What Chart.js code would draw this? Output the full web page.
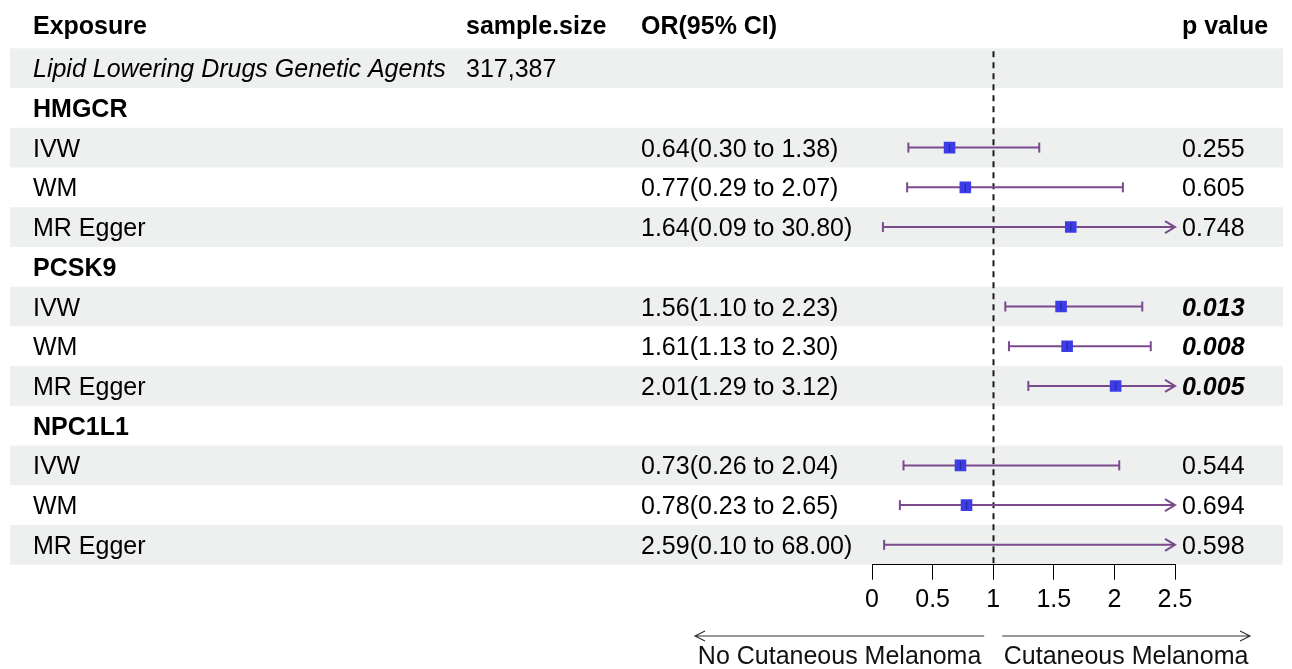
<!DOCTYPE html>
<html>
<head>
<meta charset="utf-8">
<script src="https://cdn.jsdelivr.net/npm/chart.js@4/dist/chart.umd.min.js"></script>
<style>
  html, body { margin: 0; padding: 0; background: #ffffff; }
  #wrap { width: 1292px; height: 669px; }
</style>
</head>
<body>
<div id="wrap"><canvas id="c" width="1292" height="669"></canvas></div>
<script>
// ---------------- DATA ----------------
const exposures = ["Lipid Lowering Drugs Genetic Agents", "HMGCR", "IVW", "WM", "MR Egger",
                   "PCSK9", "IVW", "WM", "MR Egger", "NPC1L1", "IVW", "WM", "MR Egger"];
const exposureStyles = ["italic", "bold", "normal", "normal", "normal",
                        "bold", "normal", "normal", "normal", "bold", "normal", "normal", "normal"];
const sampleSizes = ["317,387", "", "", "", "", "", "", "", "", "", "", "", ""];
const orLabels = ["", "", "0.64(0.30 to 1.38)", "0.77(0.29 to 2.07)", "1.64(0.09 to 30.80)",
                  "", "1.56(1.10 to 2.23)", "1.61(1.13 to 2.30)", "2.01(1.29 to 3.12)",
                  "", "0.73(0.26 to 2.04)", "0.78(0.23 to 2.65)", "2.59(0.10 to 68.00)"];
const orValues = [null, null, 0.64, 0.77, 1.64, null, 1.56, 1.61, 2.01, null, 0.73, 0.78, 2.59];
const ciLower  = [null, null, 0.30, 0.29, 0.09, null, 1.10, 1.13, 1.29, null, 0.26, 0.23, 0.10];
const ciUpper  = [null, null, 1.38, 2.07, 30.80, null, 2.23, 2.30, 3.12, null, 2.04, 2.65, 68.00];
const pValues  = ["", "", "0.255", "0.605", "0.748", "", "0.013", "0.008", "0.005", "", "0.544", "0.694", "0.598"];
const pBold    = [false, false, false, false, false, false, true, true, true, false, false, false, false];
const headers  = ["Exposure", "sample.size", "OR(95% CI)", "p value"];
const xTicks   = [0, 0.5, 1, 1.5, 2, 2.5];
const refValue = 1;
const leftLabel = "No Cutaneous Melanoma";
const rightLabel = "Cutaneous Melanoma";

// ---------------- STYLE ----------------
const FONT = '"Liberation Sans", Arial, Helvetica, sans-serif';
const FS = 25;
const COLX = [33, 466, 641, 1182];
const BAND = '#eef0ef';
const CI_COLOR = '#7b4a8d';
const PT_COLOR = '#3d3de8';

const pts = [];
orValues.forEach((v, i) => { if (v !== null) pts.push({ x: v, y: i }); });

const forestPlugin = {
  id: 'forest',
  beforeDraw(chart) {
    const ctx = chart.ctx, y = chart.scales.y;
    ctx.save();
    ctx.fillStyle = '#ffffff';
    ctx.fillRect(0, 0, chart.width, chart.height);
    ctx.fillStyle = BAND;
    for (let i = 0; i < exposures.length; i += 2) {
      const t = y.getPixelForValue(i - 0.5), b = y.getPixelForValue(i + 0.5);
      ctx.fillRect(10, t, 1273, b - t);
    }
    // texts
    ctx.fillStyle = '#000000';
    ctx.textBaseline = 'alphabetic';
    ctx.textAlign = 'left';
    const hy = 25 + 9;
    ctx.font = `bold ${FS}px ${FONT}`;
    headers.forEach((h, k) => ctx.fillText(h, COLX[k], hy));
    exposures.forEach((t, i) => {
      const cy = y.getPixelForValue(i) + 9;
      const st = exposureStyles[i];
      ctx.font = (st === 'bold' ? 'bold ' : st === 'italic' ? 'italic ' : '') + `${FS}px ${FONT}`;
      ctx.fillText(t, COLX[0], cy);
      ctx.font = `${FS}px ${FONT}`;
      if (sampleSizes[i]) ctx.fillText(sampleSizes[i], COLX[1], cy);
      if (orLabels[i]) ctx.fillText(orLabels[i], COLX[2], cy);
      if (pValues[i]) {
        ctx.font = (pBold[i] ? 'italic bold ' : '') + `${FS}px ${FONT}`;
        ctx.fillText(pValues[i], COLX[3], cy);
      }
    });
    ctx.restore();
  },
  beforeDatasetsDraw(chart) {
    const ctx = chart.ctx, x = chart.scales.x, y = chart.scales.y, area = chart.chartArea;
    ctx.save();
    // reference dashed line
    const rx = Math.round(x.getPixelForValue(refValue)) + 0.5;
    ctx.strokeStyle = '#1a1a1a';
    ctx.lineWidth = 2;
    ctx.setLineDash([6, 5]);
    ctx.beginPath();
    ctx.moveTo(rx, area.top + 3);
    ctx.lineTo(rx, area.bottom);
    ctx.stroke();
    ctx.setLineDash([]);
    // CI lines
    ctx.strokeStyle = CI_COLOR;
    ctx.lineWidth = 2;
    for (let i = 0; i < orValues.length; i++) {
      if (orValues[i] === null) continue;
      const cy = y.getPixelForValue(i);
      const lo = Math.max(ciLower[i], x.min), hi = Math.min(ciUpper[i], x.max);
      const x0 = x.getPixelForValue(lo), x1 = x.getPixelForValue(hi);
      ctx.beginPath();
      ctx.moveTo(x0, cy); ctx.lineTo(x1, cy);
      ctx.stroke();
      ctx.beginPath();
      ctx.moveTo(x0, cy - 5); ctx.lineTo(x0, cy + 5);
      ctx.stroke();
      if (ciUpper[i] > x.max) {
        ctx.beginPath();
        ctx.moveTo(x1 - 10, cy - 6); ctx.lineTo(x1, cy); ctx.lineTo(x1 - 10, cy + 6);
        ctx.stroke();
      } else {
        ctx.beginPath();
        ctx.moveTo(x1, cy - 5); ctx.lineTo(x1, cy + 5);
        ctx.stroke();
      }
    }
    ctx.restore();
  },
  afterDatasetsDraw(chart) {
    const ctx = chart.ctx, x = chart.scales.x, y = chart.scales.y;
    ctx.save();
    ctx.strokeStyle = '#2a2a9a';
    ctx.lineWidth = 1.3;
    pts.forEach(p => {
      if (p.x > x.max) return;
      const px = x.getPixelForValue(p.x), py = y.getPixelForValue(p.y);
      ctx.beginPath();
      ctx.moveTo(px, py - 4); ctx.lineTo(px, py + 4);
      ctx.stroke();
    });
    // bottom direction arrows
    const rx = x.getPixelForValue(refValue);
    const ay = 636;
    const lx0 = 695, lx1 = rx - 9, rx0 = rx + 9, rx1 = 1250;
    ctx.strokeStyle = '#333333';
    ctx.lineWidth = 1.2;
    ctx.beginPath();
    ctx.moveTo(lx0, ay); ctx.lineTo(lx1, ay);
    ctx.moveTo(lx0 + 10, ay - 5); ctx.lineTo(lx0, ay); ctx.lineTo(lx0 + 10, ay + 5);
    ctx.moveTo(rx0, ay); ctx.lineTo(rx1, ay);
    ctx.moveTo(rx1 - 10, ay - 5); ctx.lineTo(rx1, ay); ctx.lineTo(rx1 - 10, ay + 5);
    ctx.stroke();
    ctx.fillStyle = '#111111';
    ctx.font = `${FS}px ${FONT}`;
    ctx.textBaseline = 'alphabetic';
    ctx.textAlign = 'center';
    ctx.fillText(leftLabel, (lx0 + lx1) / 2, 664);
    ctx.fillText(rightLabel, (rx0 + rx1) / 2, 664);
    ctx.restore();
  }
};

new Chart(document.getElementById('c'), {
  type: 'scatter',
  data: {
    datasets: [{
      label: 'OR',
      data: pts,
      pointStyle: 'rect',
      pointRadius: 8.2,
      pointHoverRadius: 8.2,
      backgroundColor: PT_COLOR,
      borderColor: PT_COLOR,
      borderWidth: 0
    }]
  },
  options: {
    responsive: false,
    animation: false,
    events: [],
    layout: { padding: { left: 872, right: 117, top: 48.3, bottom: 49.3 } },
    plugins: { legend: { display: false }, tooltip: { enabled: false }, title: { display: false } },
    scales: {
      x: {
        type: 'linear',
        min: xTicks[0],
        max: xTicks[xTicks.length - 1],
        afterBuildTicks(scale) { scale.ticks = xTicks.map(v => ({ value: v })); },
        ticks: {
          color: '#000000',
          font: { family: FONT, size: FS },
          padding: 5,
          maxRotation: 0,
          autoSkip: false,
          callback: v => String(v)
        },
        grid: { drawOnChartArea: false, drawTicks: true, tickLength: 15, color: '#000000', lineWidth: 1 },
        border: { display: true, color: '#000000', width: 1 }
      },
      y: {
        type: 'linear',
        reverse: true,
        min: -0.5,
        max: exposures.length - 0.5,
        display: false
      }
    }
  },
  plugins: [forestPlugin]
});
</script>
</body>
</html>
